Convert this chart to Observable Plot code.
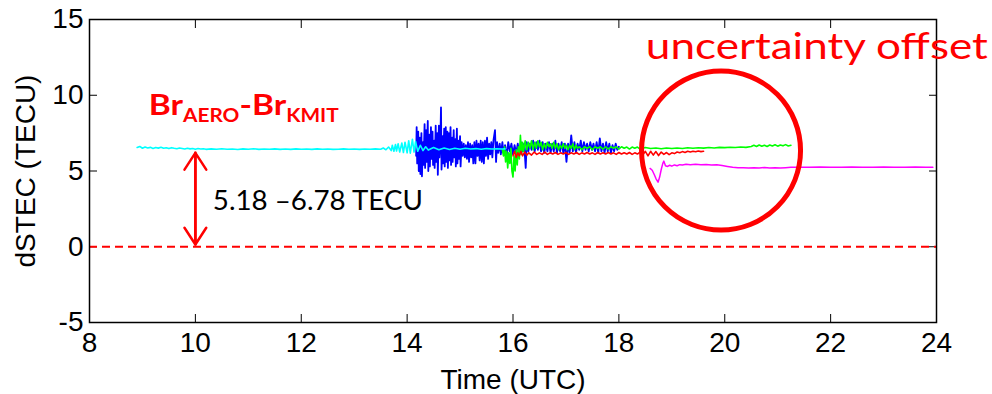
<!DOCTYPE html>
<html>
<head>
<meta charset="utf-8">
<script src="https://cdn.jsdelivr.net/npm/d3@7"></script>
<script src="https://cdn.jsdelivr.net/npm/@observablehq/plot@0.6"></script>
<style>
  html, body { margin: 0; padding: 0; background: #fff; }
  #chart svg { display: block; overflow: visible; }
</style>
</head>
<body>
<div id="chart"></div>
<script>
// ---- axis ticks ----
const xTicks = [8, 10, 12, 14, 16, 18, 20, 22, 24];
const yTicks = [-5, 0, 5, 10, 15];

// ---- series: [time (UTC), dSTEC (TECU)] ----
const cyan = [
  [8.90,6.55],[8.95,6.62],[9.00,6.50],[9.05,6.58],[9.10,6.52],[9.15,6.56],[9.20,6.49],[9.25,6.55],[9.30,6.51],[9.35,6.57],
  [9.40,6.50],[9.45,6.53],[9.50,6.48],[9.55,6.54],[9.60,6.50],[9.65,6.47],[9.70,6.52],[9.75,6.49],[9.80,6.45],[9.85,6.50],
  [9.90,6.46],[9.95,6.49],[10.0,6.44],[10.05,6.48],[10.1,6.45],[10.15,6.47],[10.2,6.43],[10.3,6.46],[10.4,6.44],[10.5,6.47],
  [10.6,6.44],[10.7,6.45],[10.8,6.42],[10.9,6.46],[11.0,6.44],[11.1,6.47],[11.2,6.43],[11.3,6.45],[11.4,6.44],[11.5,6.46],
  [11.6,6.43],[11.7,6.45],[11.8,6.43],[11.9,6.46],[12.0,6.44],[12.1,6.45],[12.2,6.43],[12.3,6.46],[12.4,6.44],[12.5,6.45],
  [12.6,6.43],[12.7,6.44],[12.8,6.46],[12.9,6.44],[13.0,6.45],[13.1,6.43],[13.2,6.45],[13.3,6.44],[13.4,6.46],[13.5,6.44],
  [13.55,6.52],[13.6,6.40],[13.65,6.58],[13.7,6.35],[13.72,6.70],[13.75,6.30],[13.78,6.75],[13.8,6.32],[13.83,6.80],[13.86,6.25],
  [13.9,6.85],[13.93,6.22],[13.96,6.90],[14.0,6.20],[14.03,7.00],[14.06,6.18],[14.1,7.10],[14.13,6.25],[14.16,6.95],[14.2,6.30],
  [14.25,6.70],[14.3,6.35],[14.35,6.60],[14.4,6.38],[14.5,6.55],[14.6,6.40],[14.7,6.52],[14.8,6.42],[14.9,6.50],[15.0,6.44],
  [15.1,6.50],[15.2,6.45],[15.3,6.48],[15.4,6.44],[15.5,6.48],[15.6,6.45],[15.7,6.47],[15.8,6.45],[15.85,6.46]
];
const blue = [
  [14.17,6.0],[14.18,7.9],[14.19,5.5],[14.21,7.6],[14.22,5.0],[14.24,7.2],[14.25,4.8],[14.27,7.5],[14.28,4.65],[14.30,6.9],
  [14.31,5.4],[14.33,8.1],[14.34,5.2],[14.36,7.7],[14.37,5.6],[14.39,8.3],[14.40,5.0],[14.42,7.4],[14.43,5.3],[14.45,7.9],
  [14.46,5.8],[14.48,7.6],[14.49,5.4],[14.51,7.0],[14.52,5.2],[14.54,8.0],[14.55,5.6],[14.57,7.5],[14.58,4.75],[14.60,8.0],
  [14.61,5.9],[14.63,7.4],[14.64,9.2],[14.65,5.1],[14.67,7.3],[14.68,5.5],[14.70,7.8],[14.71,5.3],[14.73,7.9],[14.74,5.6],
  [14.76,7.6],[14.77,5.2],[14.79,7.5],[14.80,5.7],[14.82,7.9],[14.83,5.4],[14.85,7.2],[14.86,5.6],[14.88,7.7],[14.89,5.9],
  [14.91,7.1],[14.92,5.3],[14.94,7.8],[14.95,5.5],[14.97,7.0],[14.98,5.8],[15.00,7.3],[15.01,5.3],[15.03,6.9],[15.05,6.0],
  [15.07,6.8],[15.09,5.9],[15.11,6.7],[15.13,5.8],[15.15,6.9],[15.17,5.6],[15.19,6.8],[15.21,5.9],[15.23,6.7],[15.25,5.5],
  [15.27,6.9],[15.29,5.5],[15.31,7.0],[15.33,6.0],[15.35,6.8],[15.37,5.7],[15.39,7.0],[15.41,5.6],[15.43,6.9],[15.45,5.5],
  [15.47,7.0],[15.49,6.0],[15.51,7.2],[15.53,5.8],[15.55,6.8],[15.57,6.1],[15.59,6.9],[15.61,5.9],[15.63,7.0],[15.66,7.7],
  [15.68,5.6],[15.70,6.9],[15.72,6.2],[15.75,6.8],[15.77,6.1],[15.80,6.9],[15.82,6.2],[15.85,6.7],[15.88,6.0],[15.91,6.9],
  [15.94,6.3],[15.97,6.8],[16.00,6.1],[16.03,6.7],[16.06,6.2],[16.09,6.8],[16.12,6.1],[16.15,6.9],[16.18,6.3],[16.21,6.8],
  [16.24,5.2],[16.26,6.9],[16.29,6.3],[16.32,6.8],[16.35,6.4],[16.38,7.0],[16.41,6.3],[16.44,6.9],[16.47,6.4],[16.50,7.0],
  [16.53,6.3],[16.56,6.9],[16.59,6.2],[16.62,6.8],[16.65,6.3],[16.68,6.9],[16.71,6.2],[16.74,6.8],[16.77,6.3],[16.80,7.0],
  [16.83,6.2],[16.86,6.8],[16.89,6.3],[16.92,6.9],[16.95,6.2],[16.98,6.8],[17.01,5.6],[17.04,6.8],[17.07,6.2],[17.10,7.35],
  [17.13,6.3],[17.16,6.9],[17.19,6.2],[17.22,6.8],[17.25,6.4],[17.28,7.0],[17.31,6.3],[17.34,6.9],[17.37,6.4],[17.40,6.8],
  [17.43,6.3],[17.46,6.9],[17.49,6.4],[17.52,6.8],[17.55,6.3],[17.58,6.9],[17.61,6.2],[17.64,7.15],[17.67,6.3],[17.70,6.8],
  [17.73,6.2],[17.76,6.9],[17.79,6.3],[17.82,6.8],[17.85,6.2],[17.88,6.7],[17.91,6.3],[17.94,6.8],[17.97,6.4],[18.00,6.6]
];
const green = [
  [15.80,6.4],[15.82,6.0],[15.84,6.6],[15.86,5.6],[15.88,6.3],[15.90,5.2],[15.92,6.2],[15.94,5.5],[15.96,6.5],[15.98,5.0],
  [16.00,4.6],[16.02,6.0],[16.04,5.0],[16.06,6.4],[16.08,5.4],[16.10,6.6],[16.12,5.8],[16.14,7.35],[16.16,6.1],[16.18,6.9],
  [16.20,6.3],[16.23,7.0],[16.26,6.4],[16.29,6.9],[16.32,6.5],[16.35,7.0],[16.38,6.4],[16.41,6.9],[16.44,6.5],[16.47,7.0],
  [16.50,6.6],[16.53,6.9],[16.56,6.4],[16.59,6.8],[16.62,6.5],[16.65,6.9],[16.68,6.6],[16.71,6.8],[16.74,6.5],[16.77,6.9],
  [16.80,6.5],[16.83,6.8],[16.86,6.4],[16.89,6.7],[16.92,6.5],[16.95,6.8],[16.98,6.5],[17.01,6.7],[17.04,6.4],[17.07,6.7],
  [17.10,6.5],[17.13,6.8],[17.16,6.4],[17.19,6.7],[17.22,6.5],[17.25,6.6],[17.30,6.4],[17.35,6.6],[17.40,6.5],[17.45,6.6],
  [17.50,6.4],[17.55,6.6],[17.60,6.5],[17.65,6.6],[17.70,6.45],[17.75,6.6],[17.80,6.45],[17.85,6.6],[17.90,6.5],[17.95,6.6],
  [18.00,6.45],[18.05,6.6],[18.10,6.5],[18.15,6.58],[18.20,6.45],[18.25,6.58],[18.30,6.5],[18.35,6.58],[18.40,6.45],[18.50,6.55],
  [18.60,6.48],[18.70,6.52],[18.80,6.47],[18.90,6.52],[19.00,6.48],[19.10,6.52],[19.20,6.49],[19.30,6.53],[19.40,6.50],[19.50,6.53],
  [19.60,6.51],[19.70,6.55],[19.80,6.52],[19.90,6.56],[20.00,6.54],[20.10,6.57],[20.20,6.55],[20.30,6.58],[20.40,6.56],[20.50,6.62],
  [20.55,6.70],[20.60,6.62],[20.65,6.72],[20.70,6.64],[20.75,6.70],[20.80,6.62],[20.85,6.72],[20.90,6.65],[20.95,6.73],[21.00,6.64],
  [21.05,6.72],[21.10,6.66],[21.15,6.74],[21.20,6.65],[21.25,6.70]
];
const red = [
  [16.00,6.0],[16.03,6.3],[16.06,5.9],[16.09,6.2],[16.12,6.0],[16.15,6.3],[16.18,6.0],[16.22,6.25],[16.26,6.05],[16.30,6.2],
  [16.35,6.05],[16.40,6.25],[16.45,6.1],[16.50,6.2],[16.55,6.1],[16.60,6.25],[16.65,6.1],[16.70,6.2],[16.75,6.12],[16.80,6.22],
  [16.85,6.1],[16.90,6.2],[16.95,6.12],[17.00,6.22],[17.05,6.1],[17.10,6.2],[17.15,6.12],[17.20,6.22],[17.25,6.1],[17.30,6.2],
  [17.35,6.12],[17.40,6.22],[17.45,6.12],[17.50,6.2],[17.55,6.1],[17.60,6.22],[17.65,6.12],[17.70,6.2],[17.75,6.12],[17.80,6.22],
  [17.85,6.12],[17.90,6.2],[17.95,6.1],[18.00,6.22],[18.05,6.12],[18.10,6.2],[18.15,6.12],[18.20,6.22],[18.25,6.1],[18.30,6.2],
  [18.35,6.12],[18.40,6.25],[18.45,6.05],[18.50,6.3],[18.55,6.0],[18.60,6.3],[18.65,6.05],[18.70,6.28],[18.75,6.02],[18.80,6.25],
  [18.85,6.1],[18.90,6.22],[18.95,6.08],[19.00,6.2],[19.05,6.15],[19.10,6.25],[19.15,6.2],[19.20,6.28],[19.25,6.22],[19.30,6.3],
  [19.35,6.25],[19.40,6.3],[19.45,6.27],[19.50,6.32],[19.55,6.28],[19.60,6.3]
];
const magenta = [
  [18.59,5.17],[18.63,5.05],[18.67,4.75],[18.70,4.5],[18.74,4.26],[18.77,4.6],[18.80,5.1],[18.83,5.5],[18.85,5.65],[18.88,5.35],
  [18.92,5.3],[18.96,5.38],[19.00,5.32],[19.05,5.4],[19.10,5.35],[19.15,5.42],[19.20,5.4],[19.27,5.45],[19.35,5.42],[19.45,5.44],
  [19.55,5.41],[19.65,5.43],[19.75,5.4],[19.85,5.41],[19.95,5.36],[20.05,5.3],[20.15,5.24],[20.25,5.21],[20.35,5.22],[20.45,5.19],
  [20.55,5.21],[20.65,5.2],[20.75,5.23],[20.85,5.2],[20.95,5.22],[21.05,5.2],[21.15,5.22],[21.25,5.24],[21.40,5.25],[21.60,5.24],
  [21.80,5.26],[22.00,5.25],[22.20,5.24],[22.40,5.26],[22.60,5.25],[22.80,5.24],[23.00,5.26],[23.20,5.25],[23.40,5.24],[23.60,5.26],
  [23.80,5.25],[23.93,5.24]
];

// ---- annotations ----
const zeroLine = [0];
const arrowX = [10];
const arrowEnds = [0.15, 6.2];            // bottom / top of the double arrow (TECU)
const circleCenter = [[19.93, 6.35]];     // "uncertainty offset" ring
const brParts = ["Br", "AERO", "-Br", "KMIT"];
const annoText = ["Br_AERO-Br_KMIT", "5.18 \u20136.78 TECU", "uncertainty offset"];
const annoX = [9.12, 10.33, 18.51];
const annoY = [9.28, 3.0, 13.2];

const annos = annoText.map((t, i) => ({t, x: annoX[i], y: annoY[i]}));
const toXY = arr => arr.map(([x, y]) => ({x, y}));

const fontAxis = "Liberation Sans, Arial, Helvetica, sans-serif";
const fontNote = "Lato, Open Sans, sans-serif";
const axisText = {fontFamily: fontAxis, fontSize: 28};

const plot = Plot.plot({
  width: 992,
  height: 394,
  marginLeft: 89,
  marginRight: 56,
  marginTop: 19,
  marginBottom: 72,
  style: {fontFamily: fontAxis, fontSize: "28px", color: "#000", background: "#fff", overflow: "visible"},
  x: {domain: [8, 24]},
  y: {domain: [-5, 15]},
  marks: [
    // axes: labels
    Plot.axisX(xTicks, {anchor: "bottom", tickSize: 0, tickPadding: 10, tickFormat: d => String(d), label: "Time (UTC)", labelAnchor: "center", labelOffset: 66, labelArrow: "none", ...axisText}),
    Plot.axisY(yTicks, {anchor: "left", tickSize: 0, tickPadding: 6, tickFormat: d => String(d), label: "dSTEC (TECU)", labelAnchor: "center", labelOffset: 74, labelArrow: "none", ...axisText}),
    // inward ticks on all four sides
    Plot.axisX(xTicks, {anchor: "bottom", tickSize: -8, tickFormat: () => "", label: null}),
    Plot.axisX(xTicks, {anchor: "top", tickSize: -8, tickFormat: () => "", label: null}),
    Plot.axisY(yTicks, {anchor: "left", tickSize: -8, tickFormat: () => "", label: null}),
    Plot.axisY(yTicks, {anchor: "right", tickSize: -8, tickFormat: () => "", label: null}),
    Plot.ruleY(zeroLine, {stroke: "#ff0000", strokeWidth: 2, strokeDasharray: "8,5"}),
    Plot.lineY(toXY(blue), {x: "x", y: "y", stroke: "#0000ff", strokeWidth: 1.8}),
    Plot.lineY(toXY(green), {x: "x", y: "y", stroke: "#00ff00", strokeWidth: 1.6}),
    Plot.lineY(toXY(red), {x: "x", y: "y", stroke: "#ff0000", strokeWidth: 1.6}),
    Plot.lineY(toXY(cyan), {x: "x", y: "y", stroke: "#00ffff", strokeWidth: 1.6}),
    Plot.lineY(toXY(magenta), {x: "x", y: "y", stroke: "#ff00ff", strokeWidth: 1.5}),
    Plot.frame({stroke: "#000", strokeWidth: 1.5}),
    // double arrow
    Plot.arrow(arrowX, {x1: d => d, x2: d => d, y1: arrowEnds[0], y2: arrowEnds[1], stroke: "#ff0000", strokeWidth: 2.5, headLength: 12, headAngle: 66}),
    Plot.arrow(arrowX, {x1: d => d, x2: d => d, y1: arrowEnds[1], y2: arrowEnds[0], stroke: "#ff0000", strokeWidth: 2.5, headLength: 12, headAngle: 66}),
    // ring
    Plot.dot(circleCenter, {x: d => d[0], y: d => d[1], r: 79.5, stroke: "#ff0000", strokeWidth: 5, fill: "none"}),
    // annotations
    Plot.text(annos, {x: "x", y: "y", text: "t", textAnchor: "start", fontFamily: fontNote,
      fill: (d, i) => i === 1 ? "#000" : "#ff0000",
      fontSize: (d, i) => [29, 26, 37][i],
      fontWeight: (d, i) => i === 0 ? "bold" : "normal"})
  ]
});

document.getElementById("chart").appendChild(plot);

// post-process annotation texts: subscripts and widths
const svg = d3.select(plot);
svg.selectAll("text").each(function () {
  const el = d3.select(this);
  const txt = this.textContent;
  if (txt === annoText[0]) {
    el.text(null).attr("font-size", 29).attr("font-weight", "bold").attr("fill", "#ff0000");
    brParts.forEach((p, i) => {
      const sub = i % 2 === 1;
      el.append("tspan").text(p)
        .attr("font-size", sub ? 18 : 29)
        .attr("dy", i === 0 ? 0 : (sub ? 7 : -7));
    });
    el.attr("textLength", 190).attr("lengthAdjust", "spacingAndGlyphs");
  } else if (txt === annoText[1]) {
    el.attr("textLength", 210).attr("lengthAdjust", "spacingAndGlyphs");
  } else if (txt === annoText[2]) {
    el.attr("textLength", 342).attr("lengthAdjust", "spacingAndGlyphs");
  }
});
</script>
</body>
</html>
